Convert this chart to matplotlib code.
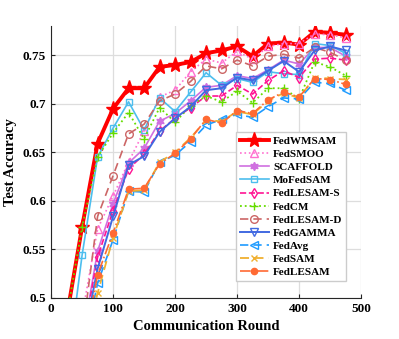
import numpy as np
import matplotlib
matplotlib.use("Agg")
import matplotlib.pyplot as plt

# rounds
rounds = [25, 50, 75, 100, 125, 150, 175, 200, 225, 250, 275, 300, 325, 350, 375, 400, 425, 450, 475]

fedwmsam = [0.480, 0.573, 0.659, 0.695, 0.716, 0.716, 0.738, 0.740, 0.743, 0.752, 0.755, 0.759, 0.749, 0.762, 0.763, 0.761, 0.774, 0.773, 0.771]
fedsmoo = [0.420, 0.482, 0.571, 0.605, 0.640, 0.672, 0.707, 0.714, 0.733, 0.746, 0.742, 0.754, 0.746, 0.759, 0.762, 0.762, 0.772, 0.771, 0.768]
scaffold = [0.400, 0.456, 0.548, 0.597, 0.639, 0.654, 0.682, 0.690, 0.703, 0.717, 0.719, 0.729, 0.726, 0.735, 0.745, 0.741, 0.758, 0.758, 0.749]
mofedsam = [0.420, 0.544, 0.645, 0.675, 0.702, 0.673, 0.706, 0.692, 0.712, 0.732, 0.719, 0.726, 0.722, 0.733, 0.731, 0.730, 0.762, 0.760, 0.752]
fedlesam_s = [0.400, 0.454, 0.542, 0.590, 0.633, 0.648, 0.672, 0.685, 0.696, 0.708, 0.708, 0.719, 0.710, 0.724, 0.734, 0.727, 0.746, 0.747, 0.745]
fedcm = [0.480, 0.573, 0.645, 0.670, 0.691, 0.664, 0.696, 0.681, 0.698, 0.708, 0.702, 0.713, 0.701, 0.716, 0.716, 0.705, 0.743, 0.738, 0.729]
fedlesam_d = [0.400, 0.460, 0.584, 0.626, 0.669, 0.679, 0.703, 0.710, 0.723, 0.739, 0.736, 0.745, 0.739, 0.749, 0.751, 0.747, 0.758, 0.753, 0.745]
fedgamma = [0.390, 0.450, 0.530, 0.584, 0.637, 0.646, 0.671, 0.685, 0.697, 0.714, 0.716, 0.727, 0.724, 0.734, 0.744, 0.733, 0.755, 0.759, 0.755]
fedavg = [0.380, 0.438, 0.515, 0.560, 0.610, 0.609, 0.640, 0.647, 0.661, 0.678, 0.684, 0.689, 0.686, 0.697, 0.706, 0.705, 0.722, 0.721, 0.714]
fedsam = [0.380, 0.435, 0.505, 0.562, 0.610, 0.611, 0.640, 0.650, 0.665, 0.683, 0.682, 0.692, 0.689, 0.703, 0.711, 0.706, 0.727, 0.726, 0.725]
fedlesam = [0.380, 0.440, 0.524, 0.567, 0.612, 0.613, 0.638, 0.649, 0.664, 0.684, 0.680, 0.693, 0.690, 0.704, 0.712, 0.707, 0.726, 0.725, 0.720]

plt.rcParams['font.family'] = ['Liberation Serif', 'DejaVu Serif']
plt.rcParams['font.weight'] = 'bold'

fig = plt.figure(figsize=(3.99, 3.39), dpi=100)
ax = fig.add_axes([0.128, 0.121, 0.777, 0.802])

# (data, label, color, linestyle, marker, markersize, filled, linewidth)
series = [
    (fedwmsam, "FedWMSAM", "#ff0000", "-", "*", 11, True, 2.8),
    (fedsmoo, "FedSMOO", "#ff70d0", ":", "^", 5.5, False, 1.2),
    (scaffold, "SCAFFOLD", "#d070e0", "-", (6, 1, 0), 6, True, 1.2),
    (mofedsam, "MoFedSAM", "#4dbeee", "-", "s", 5, False, 1.2),
    (fedlesam_s, "FedLESAM-S", "#ff1493", "--", "d", 5.5, False, 1.2),
    (fedcm, "FedCM", "#66dd00", ":", "+", 6, False, 1.3),
    (fedlesam_d, "FedLESAM-D", "#cc6666", (0, (5, 3)), "o", 5.5, False, 1.2),
    (fedgamma, "FedGAMMA", "#4169e1", "-", "v", 6, False, 1.4),
    (fedavg, "FedAvg", "#1e9bff", (0, (5, 3)), "<", 5.5, False, 1.2),
    (fedsam, "FedSAM", "#f0b030", (0, (5, 3)), "x", 4.5, False, 1.3),
    (fedlesam, "FedLESAM", "#ff6a33", "-.", "o", 4.5, True, 1.2),
]

for vals, lab, col, ls, mk, ms, filled, lw in series:
    ax.plot(rounds, vals, color=col, linestyle=ls, marker=mk, markersize=ms,
            markerfacecolor=col if filled else "none", markeredgecolor=col,
            markeredgewidth=1.0, linewidth=lw, label=lab)

ax.set_xlim(0, 500)
ax.set_ylim(0.5, 0.78)
ax.set_xticks([0, 100, 200, 300, 400, 500])
ax.set_yticks([0.5, 0.55, 0.6, 0.65, 0.7, 0.75])
ax.set_yticklabels(["0.5", "0.55", "0.6", "0.65", "0.7", "0.75"])
ax.tick_params(direction="in", length=3, labelsize=9.5, colors="#262626", labelcolor="black")
for lbl in ax.get_xticklabels() + ax.get_yticklabels():
    lbl.set_fontweight("bold")

ax.grid(True, color="#dddddd", linewidth=0.9)
ax.set_axisbelow(True)
ax.spines["top"].set_visible(False)
ax.spines["right"].set_visible(False)
ax.spines["left"].set_color("#262626")
ax.spines["bottom"].set_color("#262626")

ax.set_xlabel("Communication Round", fontsize=10.5, fontweight="bold")
ax.set_ylabel("Test Accuracy", fontsize=10.5, fontweight="bold")

leg = ax.legend(loc="lower right", bbox_to_anchor=(0.952, 0.0625), borderaxespad=0,
                handlelength=2.6, labelspacing=0.3, borderpad=0.35,
                handletextpad=0.4, fancybox=False, framealpha=1.0,
                edgecolor="#cccccc", prop={"weight": "bold", "size": 8})

plt.savefig("out.png", dpi=100)
